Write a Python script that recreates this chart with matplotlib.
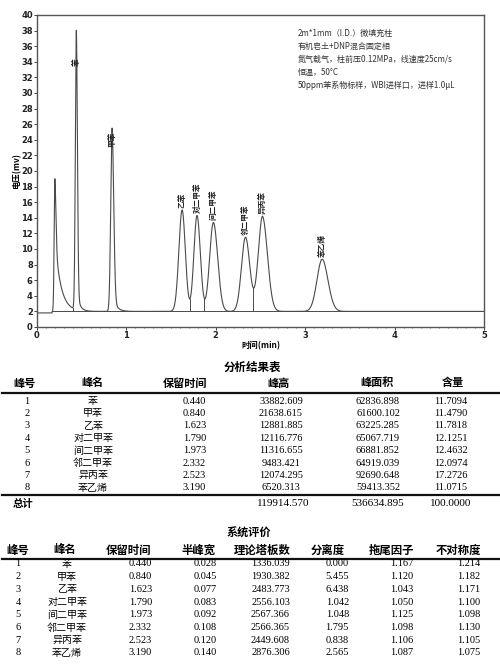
import numpy as np
import matplotlib
matplotlib.use("Agg")
import matplotlib.pyplot as plt

plt.rcParams['font.family'] = ['Noto Sans CJK SC', 'DejaVu Sans']

# ---------------- data ----------------
names = ['苯', '甲苯', '乙苯', '对二甲苯', '间二甲苯', '邻二甲苯', '异丙苯', '苯乙烯']
ret_time = [0.440, 0.840, 1.623, 1.790, 1.973, 2.332, 2.523, 3.190]
peak_height = [33882.609, 21638.615, 12881.885, 12116.776, 11316.655, 9483.421, 12074.295, 6520.313]
peak_area = [62836.898, 61600.102, 63225.285, 65067.719, 66881.852, 64919.039, 92690.648, 59413.352]
content = [11.7094, 11.4790, 11.7818, 12.1251, 12.4632, 12.0974, 17.2726, 11.0715]
totals = ['119914.570', '536634.895', '100.0000']

half_width = [0.028, 0.045, 0.077, 0.083, 0.092, 0.108, 0.120, 0.140]
plates = [1336.039, 1930.382, 2483.773, 2556.103, 2567.366, 2566.365, 2449.608, 2876.306]
resolution = [0.000, 5.455, 6.438, 1.042, 1.048, 1.795, 0.838, 2.565]
tailing = [1.167, 1.120, 1.043, 1.050, 1.125, 1.098, 1.106, 1.087]
asymmetry = [1.214, 1.182, 1.171, 1.100, 1.098, 1.130, 1.105, 1.075]

# chromatogram peaks (solvent peak + 8 analytes), heights in mV above baseline
chrom_time = [0.20] + ret_time
chrom_height = [17.0, 35.8, 23.5, 13.0, 12.3, 11.4, 9.5, 12.2, 6.7]
sigma_left = [0.008, 0.011, 0.015, 0.036, 0.035, 0.042, 0.045, 0.048, 0.058]
sigma_right = [0.012, 0.012, 0.018, 0.036, 0.037, 0.048, 0.048, 0.055, 0.065]
tail_frac = [0.55, 0.08, 0.10, 0.0, 0.0, 0.0, 0.0, 0.05, 0.03]
tail_tau = [0.065, 0.03, 0.04, 0.05, 0.05, 0.05, 0.05, 0.05, 0.06]
baseline_level = 2.0
pre_injection_level = 1.8
injection_time = 0.17
valley_times = [0.40, 0.78, 1.71, 1.87, 2.42]

peak_labels = ['苯', '甲苯', '乙苯', '对二甲苯', '间二甲苯', '邻二甲苯', '异丙苯', '苯乙烯']

info_lines = ['2m*1mm（I.D.）微填充柱',
              '有机皂土+DNP混合固定相',
              '氮气载气，柱前压0.12MPa，线速度25cm/s',
              '恒温，50°C',
              '50ppm苯系物标样，WBI进样口，进样1.0μL']

# ---------------- figure ----------------
W, H = 500, 664
fig = plt.figure(figsize=(W / 100, H / 100), dpi=100)
fig.patch.set_facecolor('white')


def px(x, y):
    return x / W, 1 - y / H


ax = fig.add_axes([37 / W, 1 - 327 / H, (484 - 37) / W, (327 - 15) / H])

t = np.linspace(0, 5, 5001)


def peak(t, t0, h, sl, sr, a, tau):
    dt = t - t0
    left = np.exp(-0.5 * (dt / sl) ** 2)
    dtp = np.clip(dt, 0, None)
    right = (1 - a) * np.exp(-0.5 * (dtp / sr) ** 2) + a * np.exp(-dtp / tau)
    return h * np.where(dt < 0, left, right)


signal = np.where(t < injection_time, pre_injection_level, baseline_level).astype(float)
for i in range(len(chrom_time)):
    signal += peak(t, chrom_time[i], chrom_height[i], sigma_left[i], sigma_right[i],
                   tail_frac[i], tail_tau[i])

lc = '#4a4a4a'
ax.plot(t, signal, color=lc, lw=0.8)
ax.plot([injection_time, 5], [baseline_level, baseline_level], color=lc, lw=0.7)
for vt in valley_times:
    vy = np.interp(vt, t, signal)
    ax.plot([vt, vt], [baseline_level, vy], color=lc, lw=0.7)

# peak labels
for i, lab in enumerate(peak_labels):
    t0 = ret_time[i]
    apex = np.interp(t0, t, signal)
    if i == 0:
        ax.text(t0, 34, lab, rotation=90, ha='center', va='center', fontsize=5.5,
                color='#222222', fontweight='bold')
    elif i == 1:
        ax.text(t0, 24.0, lab, rotation=90, ha='center', va='center', fontsize=5.5,
                color='#222222', fontweight='bold')
    else:
        ax.text(t0, apex + 0.3, lab, rotation=90, ha='center', va='bottom', fontsize=5.5,
                color='#222222', fontweight='bold')

ax.set_xlim(0, 5)
ax.set_ylim(0, 40)
ax.set_xticks(range(0, 6))
ax.set_yticks(range(0, 41, 2))
ax.set_xticks(np.arange(0, 5.01, 0.1), minor=True)
ax.tick_params(axis='both', labelsize=6, length=2, width=0.6, pad=1, colors='#222222')
ax.tick_params(axis='x', which='minor', length=1, width=0.4)
for lab in ax.get_xticklabels() + ax.get_yticklabels():
    lab.set_fontweight('bold')
    lab.set_family('DejaVu Sans')
for s in ax.spines.values():
    s.set_color('#555555')
    s.set_linewidth(1.0)
ax.set_xlabel('时间(min)', fontsize=6, fontweight='bold', labelpad=1)
ax.set_ylabel('电压(mv)', fontsize=6, fontweight='bold', labelpad=0)

for k, line in enumerate(info_lines):
    fig.text(*px(298, 33 + k * 13), line, fontsize=5.8, color='#333333',
             ha='left', va='center')

# ---------------- table 1 ----------------
num_font = 'Liberation Serif'
cjk = 'Noto Sans CJK SC'
nfs = 7.5

fig.text(*px(252, 367), '分析结果表', fontsize=8.3, fontweight='bold', ha='center', va='center', family=cjk)
hdr1 = ['峰号', '峰名', '保留时间', '峰高', '峰面积', '含量']
hdr1_x = [24, 93, 185, 279, 377, 453]
for h, x in zip(hdr1, hdr1_x):
    fig.text(*px(x, 383), h, fontsize=8, fontweight='bold', ha='center', va='center', family=cjk)
fig.add_artist(plt.Line2D([2 / W, 1], [1 - 393 / H] * 2, color='#111111', lw=1.6))
for i in range(8):
    y = 401 + i * 12.4
    fig.text(*px(27, y), str(i + 1), fontsize=nfs, ha='center', va='center', family=num_font)
    fig.text(*px(93, y), names[i], fontsize=7.2, ha='center', va='center', family=cjk)
    fig.text(*px(206, y), '%.3f' % ret_time[i], fontsize=nfs, ha='right', va='center', family=num_font)
    fig.text(*px(281, y), '%.3f' % peak_height[i], fontsize=nfs, ha='center', va='center', family=num_font)
    fig.text(*px(378, y), '%.3f' % peak_area[i], fontsize=nfs, ha='center', va='center', family=num_font)
    fig.text(*px(451, y), '%.4f' % content[i], fontsize=nfs, ha='center', va='center', family=num_font)
fig.add_artist(plt.Line2D([2 / W, 1], [1 - 495 / H] * 2, color='#111111', lw=1.6))
fig.text(*px(23, 504), '总计', fontsize=7.5, fontweight='bold', ha='center', va='center', family=cjk)
for v, x in zip(totals, [283, 378, 451]):
    fig.text(*px(x, 504), v, fontsize=8, ha='center', va='center', family=num_font)

# ---------------- table 2 ----------------
fig.text(*px(249, 533), '系统评价', fontsize=8, fontweight='bold', ha='center', va='center', family=cjk)
hdr2 = ['峰号', '峰名', '保留时间', '半峰宽', '理论塔板数', '分离度', '拖尾因子', '不对称度']
hdr2_x = [18, 65, 129, 198, 262, 328, 391, 458]
for h, x in zip(hdr2, hdr2_x):
    fig.text(*px(x, 550), h, fontsize=8.2, fontweight='bold', ha='center', va='center', family=cjk)
fig.add_artist(plt.Line2D([2 / W, 1], [1 - 559 / H] * 2, color='#111111', lw=1.6))
for i in range(8):
    y = 564 + i * 12.7
    fig.text(*px(18, y), str(i + 1), fontsize=nfs, ha='center', va='center', family=num_font)
    fig.text(*px(67, y), names[i], fontsize=7.2, ha='center', va='center', family=cjk)
    fig.text(*px(152, y), '%.3f' % ret_time[i], fontsize=nfs, ha='right', va='center', family=num_font)
    fig.text(*px(217, y), '%.3f' % half_width[i], fontsize=nfs, ha='right', va='center', family=num_font)
    fig.text(*px(290, y), '%.3f' % plates[i], fontsize=nfs, ha='right', va='center', family=num_font)
    fig.text(*px(349, y), '%.3f' % resolution[i], fontsize=nfs, ha='right', va='center', family=num_font)
    fig.text(*px(413, y), '%.3f' % tailing[i], fontsize=nfs, ha='right', va='center', family=num_font)
    fig.text(*px(480, y), '%.3f' % asymmetry[i], fontsize=nfs, ha='right', va='center', family=num_font)

fig.savefig('out.png', dpi=100, facecolor='white')
